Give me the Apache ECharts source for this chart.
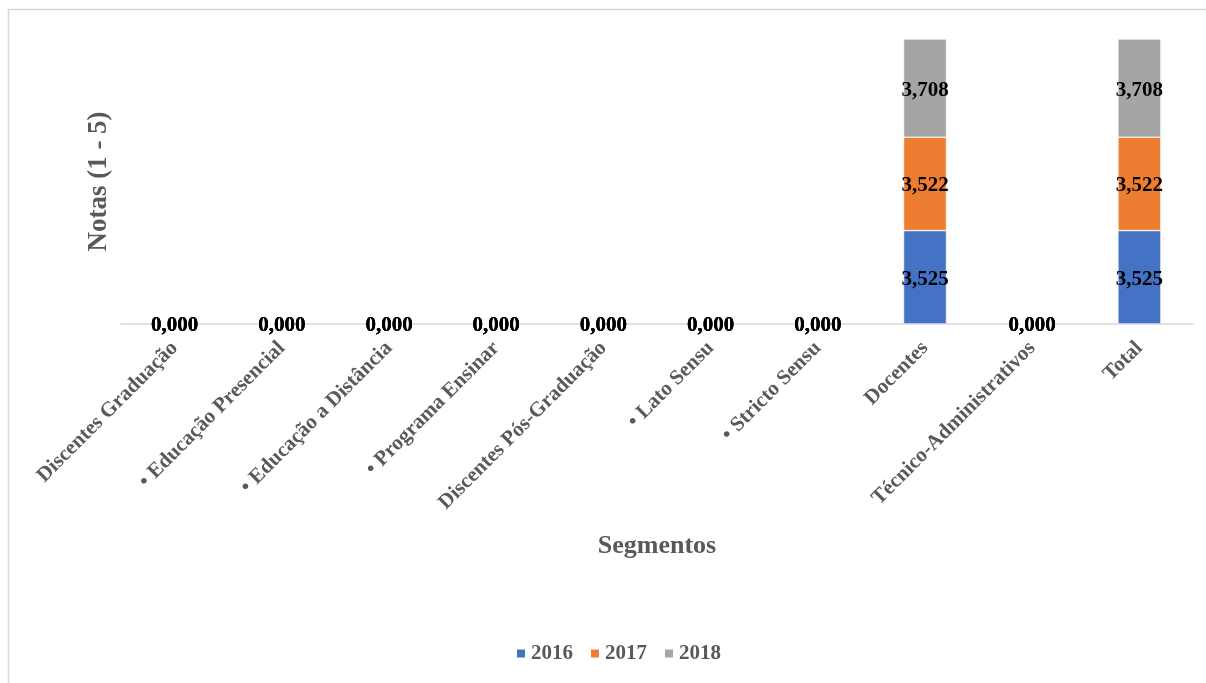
<!DOCTYPE html>
<html>
<head>
<meta charset="utf-8">
<script src="https://cdn.jsdelivr.net/npm/echarts@6/dist/echarts.min.js"></script>
<style>
html,body{margin:0;padding:0;background:#fff;}
#chart{width:1206px;height:683px;}
</style>
</head>
<body>
<div id="chart"></div>
<script>
const categories = ['Discentes Graduação', '• Educação Presencial', '• Educação a Distância', '• Programa Ensinar', 'Discentes Pós-Graduação', '• Lato Sensu', '• Stricto Sensu', 'Docentes', 'Técnico-Administrativos', 'Total'];
const seriesNames = ['2016', '2017', '2018'];
const values2016 = [0, 0, 0, 0, 0, 0, 0, 3.525, 0, 3.525];
const values2017 = [0, 0, 0, 0, 0, 0, 0, 3.522, 0, 3.522];
const values2018 = [0, 0, 0, 0, 0, 0, 0, 3.708, 0, 3.708];
const colors = ['#4472C4', '#ED7D31', '#A5A5A5'];

const serif = '"Liberation Serif", "Times New Roman", serif';
const allValues = [values2016, values2017, values2018];
const stackMax = Math.max(...categories.map((_, i) => allValues.reduce((s, a) => s + a[i], 0)));

const chart = echarts.init(document.getElementById('chart'));
chart.setOption({
  backgroundColor: '#fff',
  animation: false,
  color: colors,
  graphic: [{
    type: 'rect',
    shape: {x: 8.5, y: 9.5, width: 1230, height: 700},
    style: {fill: 'none', stroke: '#d9d9d9', lineWidth: 1.5},
    silent: true
  }],
  grid: {left: 121, right: 13, top: 39, bottom: 359, containLabel: false},
  legend: {
    bottom: 14,
    left: 510,
    itemWidth: 10,
    itemHeight: 10,
    itemGap: 16,
    icon: 'rect',
    textStyle: {fontFamily: serif, fontWeight: 'bold', fontSize: 21, color: '#595959'},
    data: seriesNames
  },
  xAxis: {
    type: 'category',
    data: categories,
    name: 'Segmentos',
    nameLocation: 'middle',
    nameGap: 209,
    nameTextStyle: {fontFamily: serif, fontWeight: 'bold', fontSize: 26, color: '#595959'},
    axisLine: {lineStyle: {color: '#d9d9d9', width: 1.5}},
    axisTick: {show: false},
    axisLabel: {interval: 0, rotate: 45, margin: 21, fontFamily: serif, fontWeight: 'bold', fontSize: 21, color: '#595959'}
  },
  yAxis: {
    type: 'value',
    min: 0,
    max: stackMax,
    name: 'Notas (1 - 5)',
    nameLocation: 'middle',
    nameGap: 8,
    nameTextStyle: {fontFamily: serif, fontWeight: 'bold', fontSize: 27, color: '#595959'},
    axisLine: {show: false},
    axisTick: {show: false},
    axisLabel: {show: false},
    splitLine: {show: false}
  },
  series: allValues.map((vals, k) => ({
    name: seriesNames[k],
    type: 'bar',
    stack: 'total',
    data: vals,
    barWidth: 43,
    itemStyle: {color: colors[k], borderColor: '#ffffff', borderWidth: 0.6},
    label: {
      show: true,
      position: 'inside',
      fontFamily: serif,
      fontWeight: 'bold',
      fontSize: 21,
      color: '#000',
      offset: [0, 2],
      formatter: p => p.value.toFixed(3).replace('.', ',')
    }
  }))
});
</script>
</body>
</html>
